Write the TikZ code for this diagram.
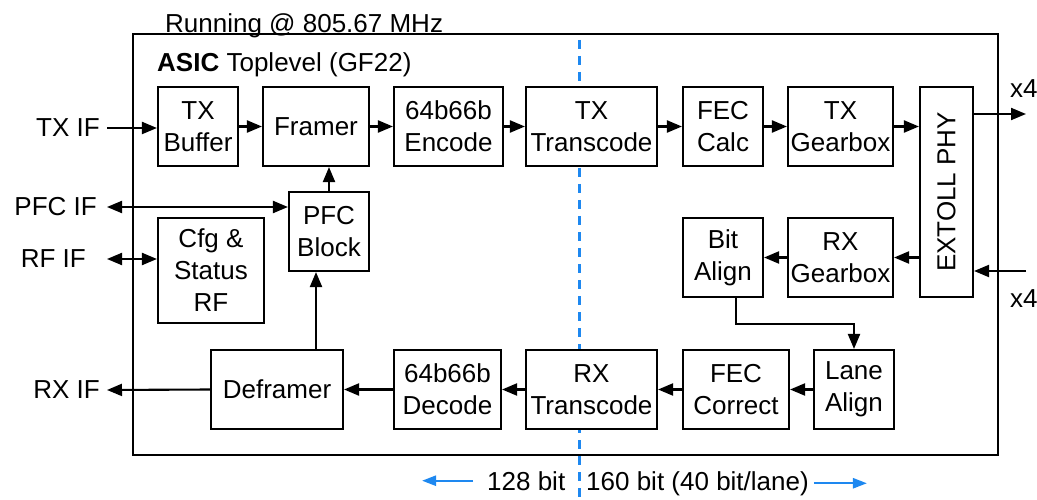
\documentclass[tikz,border=0pt]{standalone}
\usepackage{fontspec}
\setmainfont{Liberation Sans}
\usetikzlibrary{arrows.meta,calc}
\definecolor{dashblue}{RGB}{30,136,240}
\begin{document}
\begin{tikzpicture}[x=1pt,y=-1pt,
 font=\fontsize{26}{32}\selectfont,
 blk/.style={draw, line width=2.1pt, fill=white, inner sep=0pt, align=center},
 arr/.style={line width=2.1pt, -{Triangle[length=15pt,width=12pt]}},
 darr/.style={line width=2.1pt, {Triangle[length=15pt,width=12pt]}-{Triangle[length=15pt,width=12pt]}},
 lbl/.style={inner sep=0pt},
 barr/.style={dashblue, line width=2.4pt, -{Triangle[length=14pt,width=10pt]}},
 bdash/.style={dashblue, line width=3pt, dash pattern=on 9pt off 7pt}]

\useasboundingbox (0,0) rectangle (1037,500);

% dashed divider
\coordinate (dtop) at (579,40);
\coordinate (dbot) at (579,497);
\draw[bdash] (dtop) -- (dbot);

% outer box
\draw[line width=2.1pt] (133,34) rectangle (998,455);
\node[lbl, anchor=base west] (run) at (165,33) {Running @ 805.67 MHz};
\node[lbl, anchor=base west] (asic) at (157,72) {\textbf{ASIC} Toplevel (GF22)};

% TX row
\node[blk, minimum width=80pt, minimum height=79pt] (txbuf) at (198,126.5) {TX\\Buffer};
\node[blk, minimum width=106pt, minimum height=79pt] (framer) at (316,126.5) {Framer};
\node[blk, minimum width=109pt, minimum height=79pt] (encode) at (448.5,126.5) {64b66b\\Encode};
\node[blk, minimum width=131pt, minimum height=79pt] (txtc) at (591.5,126.5) {TX\\Transcode};
\node[blk, minimum width=80pt, minimum height=79pt] (feccalc) at (723,126.5) {FEC\\Calc};
\node[blk, minimum width=105pt, minimum height=79pt] (txgb) at (840.5,126.5) {TX\\Gearbox};
\node[blk, minimum width=53pt, minimum height=210pt] (phy) at (946.5,192) {\rotatebox{90}{EXTOLL PHY}};

% middle
\node[blk, minimum width=80pt, minimum height=79pt] (pfc) at (329,231.5) {PFC\\Block};
\node[blk, minimum width=106pt, minimum height=105pt] (cfg) at (211,270.5) {Cfg \&\\Status\\RF};
\node[blk, minimum width=80pt, minimum height=79pt] (bitalign) at (723,257.5) {Bit\\Align};
\node[blk, minimum width=105pt, minimum height=79pt] (rxgb) at (840.5,257.5) {RX\\Gearbox};

% RX row
\node[blk, minimum width=80pt, minimum height=79pt] (lanealign) at (854,389.5) {Lane\\Align};
\node[blk, minimum width=106pt, minimum height=79pt] (feccorr) at (736,389.5) {FEC\\Correct};
\node[blk, minimum width=131pt, minimum height=79pt] (rxtc) at (591.5,389.5) {RX\\Transcode};
\node[blk, minimum width=107pt, minimum height=79pt] (decode) at (447.5,389.5) {64b66b\\Decode};
\node[blk, minimum width=132pt, minimum height=79pt] (deframer) at (277,389.5) {Deframer};

% external labels
\node[lbl, anchor=east] (txif) at (100,128) {TX IF};
\node[lbl, anchor=east] (pfcif) at (97,207) {PFC IF};
\node[lbl, anchor=east] (rfif) at (86,259) {RF IF};
\node[lbl, anchor=east] (rxif) at (100,390) {RX IF};
\node[lbl, anchor=base west] (x4a) at (1010,98) {x4};
\node[lbl, anchor=base west] (x4b) at (1010,307) {x4};

% TX connectors
\coordinate (txl) at ([xshift=7pt]txif.east);
\draw[arr] (txl) -- (txl -| txbuf.west);
\draw[arr] (txbuf) -- (framer);
\draw[arr] (framer) -- (encode);
\draw[arr] (encode) -- (txtc);
\draw[arr] (txtc) -- (feccalc);
\draw[arr] (feccalc) -- (txgb);
\draw[arr] (txgb.east) -- (txgb.east -| phy.west);
\coordinate (txout) at (1026,114);
\draw[arr] (txout -| phy.east) -- (txout);

% RX connectors
\coordinate (rxin) at (1026,271);
\draw[arr] (rxin) -- (rxin -| phy.east);
\draw[arr] (rxgb.east -| phy.west) -- (rxgb.east);
\draw[arr] (rxgb) -- (bitalign);
\draw[arr] ([xshift=13pt]bitalign.south) -- ++(0,26) -| (lanealign.north);
\draw[arr] (lanealign) -- (feccorr);
\draw[arr] (feccorr) -- (rxtc);
\draw[arr] (rxtc) -- (decode);
\draw[arr] (decode) -- (deframer);
\draw[arr] (deframer.west) -- ([xshift=7pt]rxif.east);

% control connectors
\coordinate (dfup) at ([xshift=39pt]deframer.north);
\draw[arr] (dfup) -- (dfup |- pfc.south);
\draw[arr] (pfc.north) -- (pfc.north |- framer.south);
\coordinate (pfcl) at ([xshift=10pt]pfcif.east);
\draw[darr] (pfcl) -- (pfcl -| pfc.west);
\coordinate (rfl) at ([xshift=21pt]rfif.east);
\draw[darr] (rfl) -- (rfl -| cfg.west);

% bottom width labels
\node[lbl, anchor=base west] (b128) at (487,490) {128 bit};
\node[lbl, anchor=base west] (b160) at (586,490) {160 bit (40 bit/lane)};
\draw[barr] ([xshift=-14pt]b128.west) -- ++(-51,0);
\draw[barr] ([xshift=5pt]b160.east) -- ++(53,0);
\end{tikzpicture}
\end{document}
